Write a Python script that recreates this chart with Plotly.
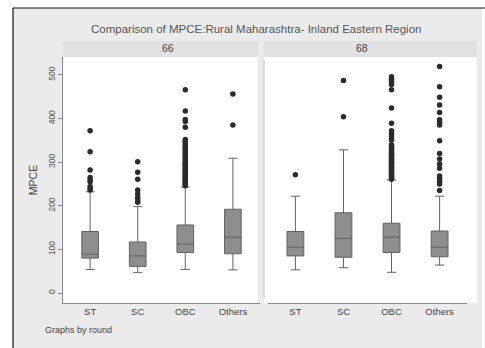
import plotly.graph_objects as go

categories = ["ST", "SC", "OBC", "Others"]

# Round 66 box statistics
r66_q1 = [80, 61, 93, 90]
r66_median = [89, 85, 112, 128]
r66_q3 = [141, 117, 156, 192]
r66_low = [54, 46.6, 54, 53]
r66_high = [232, 198, 243, 309]

# Round 68 box statistics
r68_q1 = [85, 82, 93, 83]
r68_median = [105, 125, 128, 105]
r68_q3 = [141, 184, 160, 142]
r68_low = [53, 58, 47.5, 64]
r68_high = [222, 328, 259, 222]

# Outliers
r66_out_ST = [372, 324, 282, 265, 259, 255, 244, 239, 236]
r66_out_SC = [301, 277, 261, 236, 227, 219, 213, 208]
r66_out_OBC = [246, 249, 252, 255, 258, 261, 264, 267, 270, 273, 276, 279, 282, 285,
               288, 291, 294, 297, 300, 304, 308, 312, 316, 320, 324, 328, 332, 336,
               340, 344, 348, 352, 380, 393, 398, 417, 466]
r66_out_Others = [456, 385]

r68_out_ST = [271]
r68_out_SC = [404, 487]
r68_out_OBC = [261, 264, 267, 270, 273, 276, 279, 282, 285, 288, 291, 294, 297, 300,
               303, 306, 309, 312, 315, 318, 321, 324, 328, 332, 336, 340, 351, 358,
               365, 372, 389, 424, 466, 478, 484, 490, 496]
r68_out_Others = [519, 473, 449, 431, 414, 397, 391, 385, 349, 320, 307, 296, 286,
                  268, 262, 256, 250, 235]

yticks = [0, 100, 200, 300, 400, 500]

W, H = 485, 348
def px(x):
    return x / W
def py(y):
    return 1 - y / H

BOX_FILL = "#8e8e8e"
BOX_LINE = "#626262"
DOT = "#2b2b2b"
FONT = "Liberation Sans"

fig = go.Figure()

panels = [
    ("x", "y", r66_q1, r66_median, r66_q3, r66_low, r66_high,
     [r66_out_ST, r66_out_SC, r66_out_OBC, r66_out_Others]),
    ("x2", "y2", r68_q1, r68_median, r68_q3, r68_low, r68_high,
     [r68_out_ST, r68_out_SC, r68_out_OBC, r68_out_Others]),
]

for xa, ya, q1, med, q3, lo, hi, outs in panels:
    fig.add_trace(go.Box(
        x=categories, q1=q1, median=med, q3=q3, lowerfence=lo, upperfence=hi,
        xaxis=xa, yaxis=ya, fillcolor=BOX_FILL,
        line=dict(color=BOX_LINE, width=1), whiskerwidth=0.55,
        boxpoints=False, showlegend=False, hoverinfo="skip",
    ))
    ox, oy = [], []
    for c, vals in zip(categories, outs):
        ox += [c] * len(vals)
        oy += vals
    fig.add_trace(go.Scatter(
        x=ox, y=oy, mode="markers", xaxis=xa, yaxis=ya,
        marker=dict(color=DOT, size=5.5), showlegend=False, hoverinfo="skip",
    ))

ydom = [py(303), py(57)]
yrange = [-22.9, 541]
xrange = [-0.57, 3.57]

fig.update_layout(
    width=W, height=H, margin=dict(l=0, r=0, t=0, b=0),
    paper_bgcolor="white", plot_bgcolor="rgba(0,0,0,0)",
    boxgap=0.5,
    font=dict(family=FONT, color="#444444", size=9),
    xaxis=dict(domain=[px(63), px(260)], range=xrange, showline=True,
               linecolor="#8a8a8a", linewidth=1, ticks="", showgrid=False,
               zeroline=False, tickfont=dict(size=9.5, color="#444444"),
               categoryorder="array", categoryarray=categories),
    xaxis2=dict(domain=[px(268), px(467)], range=xrange, showline=True,
                linecolor="#8a8a8a", linewidth=1, ticks="", showgrid=False,
                zeroline=False, tickfont=dict(size=9.5, color="#444444"),
                categoryorder="array", categoryarray=categories, anchor="y2"),
    yaxis=dict(domain=ydom, range=yrange, tickvals=yticks, showline=True,
               linecolor="#8a8a8a", linewidth=1, ticks="outside", ticklen=4,
               tickcolor="#8a8a8a", tickangle=-90, showgrid=False, zeroline=False,
               tickfont=dict(size=8.5, color="#555555"),
               title=dict(text="MPCE", font=dict(size=10.5, color="#444444"), standoff=6)),
    yaxis2=dict(domain=ydom, range=yrange, tickvals=yticks, showline=False,
                showticklabels=False, ticks="", showgrid=False, zeroline=False,
                anchor="x2"),
    shapes=[
        dict(type="rect", xref="paper", yref="paper", x0=px(13), x1=px(482),
             y0=0, y1=py(8), fillcolor="#ebebeb", line=dict(width=0), layer="below"),
        dict(type="line", xref="paper", yref="paper", x0=px(13), x1=px(13),
             y0=0, y1=py(8), line=dict(color="#111111", width=1.2)),
        dict(type="line", xref="paper", yref="paper", x0=px(13), x1=1,
             y0=py(8), y1=py(8), line=dict(color="#111111", width=1.2)),
        dict(type="rect", xref="paper", yref="paper", x0=px(63), x1=px(258),
             y0=py(57), y1=py(41), fillcolor="#e1e1e1", line=dict(width=0), layer="below"),
        dict(type="rect", xref="paper", yref="paper", x0=px(264), x1=px(477),
             y0=py(57), y1=py(41), fillcolor="#e1e1e1", line=dict(width=0), layer="below"),
        dict(type="rect", xref="paper", yref="paper", x0=px(63), x1=px(258),
             y0=py(303), y1=py(57), fillcolor="white", line=dict(width=0), layer="below"),
        dict(type="rect", xref="paper", yref="paper", x0=px(264), x1=px(477),
             y0=py(303), y1=py(57), fillcolor="white", line=dict(width=0), layer="below"),
        dict(type="line", xref="paper", yref="paper", x0=px(264), x1=px(264),
             y0=py(298), y1=py(60), line=dict(color="#d4d4d4", width=1.5)),
    ],
    annotations=[
        dict(text="Comparison of MPCE:Rural Maharashtra- Inland Eastern Region",
             xref="paper", yref="paper", x=px(256), y=py(29), yanchor="middle",
             showarrow=False, font=dict(size=11.5, color="#555555")),
        dict(text="66", xref="paper", yref="paper", x=px(160), y=py(48),
             yanchor="middle", showarrow=False, font=dict(size=10.5, color="#444444")),
        dict(text="68", xref="paper", yref="paper", x=px(370), y=py(48),
             yanchor="middle", showarrow=False, font=dict(size=10.5, color="#444444")),
        dict(text="Graphs by round", xref="paper", yref="paper", x=px(43),
             y=py(330), xanchor="left", yanchor="middle", showarrow=False,
             font=dict(size=9, color="#444444")),
    ],
)

fig.write_html("out.html")
